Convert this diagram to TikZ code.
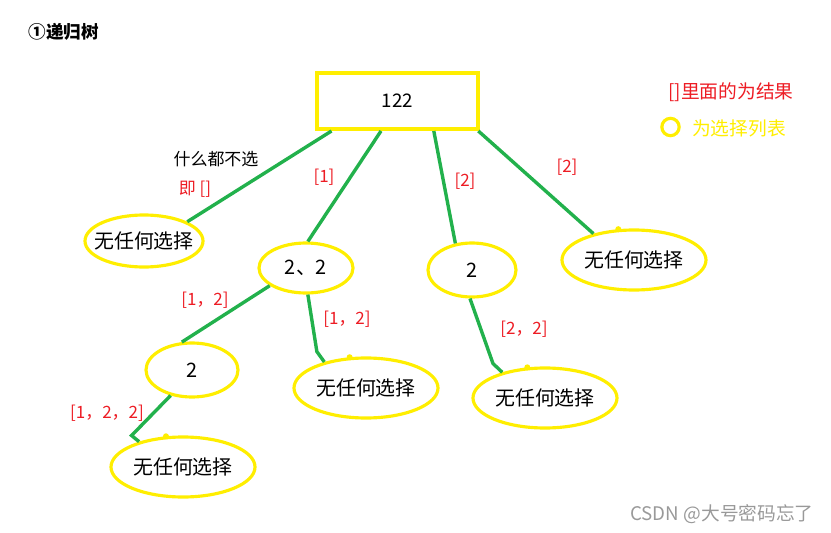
\documentclass[tikz,border=0pt]{standalone}
\usepackage{fontspec}
\setmainfont{Noto Sans CJK SC}
\usetikzlibrary{shapes.geometric, calc}
\definecolor{penyellow}{RGB}{255,238,0}
\definecolor{pengreen}{RGB}{34,177,76}
\definecolor{penred}{RGB}{237,28,36}

\begin{document}
\begin{tikzpicture}[x=0.03cm, y=-0.03cm,
  rootbox/.style={draw=penyellow, line width=3.4pt, rectangle, minimum width=4.83cm, minimum height=1.68cm, inner sep=0pt, font=\fontsize{16}{18}\selectfont},
  choice/.style={draw=penyellow, line width=2.7pt, ellipse, inner xsep=-8pt, inner ysep=0pt, font=\fontsize{17}{19}\selectfont},
  wide/.style={minimum width=4.32cm, minimum height=1.8cm},
  branch/.style={draw=pengreen, line width=2.9pt},
  res/.style={text=penred, font=\fontsize{14.5}{16}\selectfont},
  note/.style={font=\fontsize{14.5}{16}\selectfont},
  knot/.style={fill=penyellow}
]
\useasboundingbox (0,0) rectangle (831,533);
\node[font=\bfseries\fontsize{15}{18}\selectfont] (title) at (64,32) {①递归树};
\node[rootbox] (root) at (397.5,101) {122};
\node[choice, minimum width=3.54cm, minimum height=1.56cm] (none1) at (144,241) {无任何选择};
\node[choice, minimum width=2.82cm, minimum height=1.5cm] (pick1) at (306,268) {2、2};
\node[choice, minimum width=2.64cm, minimum height=1.62cm] (pick2) at (472,270) {2};
\node[choice, wide] (none2) at (634,260) {无任何选择};
\node[choice, minimum width=2.76cm, minimum height=1.62cm] (pick12) at (192,370) {2};
\node[choice, wide] (none3) at (366,388) {无任何选择};
\node[choice, wide] (none4) at (545,398) {无任何选择};
\node[choice, wide] (none5) at (183,467) {无任何选择};
\draw[branch] ($(root.south west)!0.1!(root.south east)$) -- (none1.24);
\draw[branch] ($(root.south west)!0.4!(root.south east)$) -- (pick1.86);
\draw[branch] ($(root.south west)!0.72!(root.south east)$) -- (pick2.122);
\draw[branch] ($(root.south west)!0.99!(root.south east)$) -- (none2.147);
\draw[branch] (pick1.-154) -- (pick12.110);
\draw[branch] (pick1.-86) -- ++(9,57) -- (none3.148);
\draw[branch] (pick12.-130) -- ++(-39,40) -- (none5.150);
\draw[branch] (pick2.-94) -- ++(23,65) -- (none4.149);
\fill[knot] (none2.117) circle[radius=0.09cm];
\fill[knot] (none3.118) circle[radius=0.09cm];
\fill[knot] (none4.120) circle[radius=0.09cm];
\fill[knot] (none5.119) circle[radius=0.09cm];
\node[note] (nothing) at (216,159) {什么都不选};
\node[res] (emptyres) at (195,189) {即 []};
\node[res] (res1) at (324,177) {[1]};
\node[res] (res2a) at (465,181) {[2]};
\node[res] (res2b) at (567,167) {[2]};
\node[res] (res12a) at (205,300) {[1，2]};
\node[res] (res12b) at (347,319) {[1，2]};
\node[res] (res22) at (524,329) {[2，2]};
\node[res] (res122) at (107,413) {[1，2，2]};
\node[res, font=\fontsize{16}{18}\selectfont] (legres) at (731,92) {[]里面的为结果};
\node[circle, draw=penyellow, line width=2.7pt, minimum size=0.52cm, inner sep=0pt] (legmark) at (670.5,127) {};
\node[text=penyellow, font=\fontsize{16}{18}\selectfont] (legchoice) at (739,128) {为选择列表};
\node[text=gray!80, font=\fontsize{16}{18}\selectfont] (mark) at (722,514) {CSDN @大号密码忘了};
\end{tikzpicture}
\end{document}
